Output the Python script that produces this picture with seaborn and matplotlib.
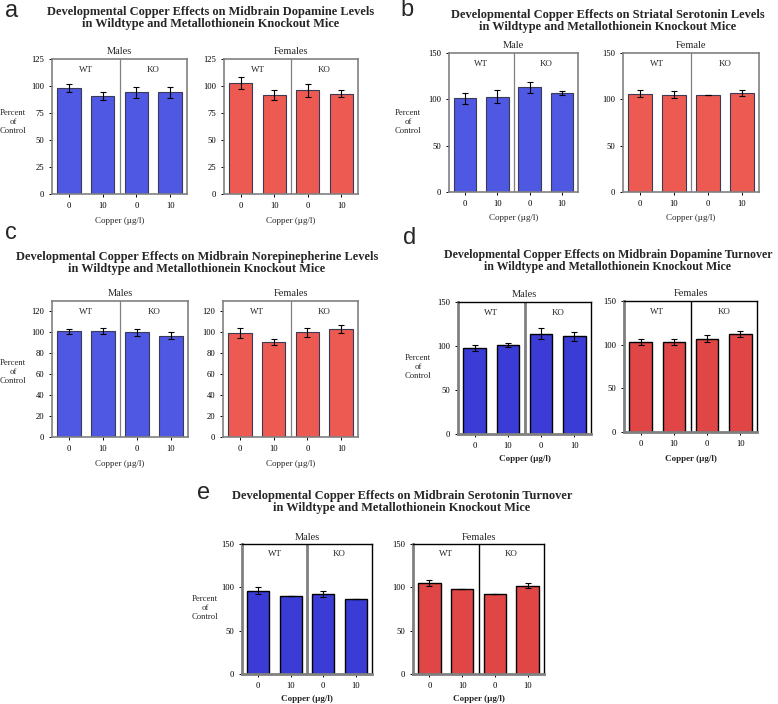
import matplotlib
matplotlib.use("Agg")
import matplotlib.pyplot as plt
import seaborn as sns
import pandas as pd

W, H = 778, 704

groups = ["WT 0", "WT 10", "KO 0", "KO 10"]
tick_labels = ["0", "10", "0", "10"]
genotypes = ["WT", "KO"]

# panel a: midbrain dopamine levels
a_males = [98, 91, 94, 94]
a_males_err = [3.5, 3.5, 5.5, 5.0]
a_females = [103, 92, 96, 93]
a_females_err = [5.5, 4.5, 6.0, 3.0]
# panel b: striatal serotonin levels
b_male = [101, 103, 113, 107]
b_male_err = [6, 7, 6, 2.5]
b_female = [106, 105, 104.5, 107]
b_female_err = [4, 4, 0, 3]
# panel c: midbrain norepinephrine levels
c_males = [101, 101, 100, 97]
c_males_err = [2.5, 3, 3.5, 3.5]
c_females = [99.5, 91, 100, 103]
c_females_err = [5, 3, 4, 4]
# panel d: midbrain dopamine turnover
d_males = [98, 101, 114, 111]
d_males_err = [3.5, 2.5, 6, 5]
d_females = [103, 103, 107, 112]
d_females_err = [3.5, 3.5, 4, 3.5]
# panel e: midbrain serotonin turnover
e_males = [96, 90, 92, 87]
e_males_err = [4, 0, 3.5, 0]
e_females = [105, 98.5, 92.5, 102]
e_females_err = [4, 0, 0, 2.5]

titles = {
    "a": "Developmental Copper Effects on Midbrain Dopamine Levels\nin Wildtype and Metallothionein Knockout Mice",
    "b": "Developmental Copper Effects on Striatal Serotonin Levels\nin Wildtype and Metallothionein Knockout Mice",
    "c": "Developmental Copper Effects on Midbrain Norepinepherine Levels\nin Wildtype and Metallothionein Knockout Mice",
    "d": "Developmental Copper Effects on Midbrain Dopamine Turnover\nin Wildtype and Metallothionein Knockout Mice",
    "e": "Developmental Copper Effects on Midbrain Serotonin Turnover\nin Wildtype and Metallothionein Knockout Mice",
}

sns.set_theme(style="white")
plt.rcParams["font.family"] = ["Liberation Serif", "DejaVu Serif"]

fig = plt.figure(figsize=(W / 100, H / 100), dpi=100)

BLUE1, RED1 = "#4f58e2", "#ec5a52"
BLUE2, RED2 = "#3b3bd6", "#e04646"


def fx(x):
    return x / W


def fy(y):
    return 1 - y / H


def panel(box, vals, errs, color, ylim, yticks, sex, style, copper_y):
    x0, y0, x1, y1 = box
    ax = fig.add_axes([fx(x0), fy(y1), (x1 - x0) / W, (y1 - y0) / H])
    df = pd.DataFrame({"group": groups, "value": vals})
    if style == 1:
        sns.barplot(data=df, x="group", y="value", color=color, saturation=1,
                    width=0.7, edgecolor="#3a3a55", linewidth=0.8,
                    errorbar=None, ax=ax)
    else:
        sns.barplot(data=df, x="group", y="value", color=color, saturation=1,
                    width=0.68, edgecolor="black", linewidth=1.0,
                    errorbar=None, ax=ax)
    xs = list(range(len(groups)))
    ax.errorbar(xs, vals, yerr=errs, fmt="none", ecolor="black",
                elinewidth=0.8, capsize=2.5, capthick=0.8)
    ax.set_xlim(-0.5, 3.5)
    ax.set_ylim(*ylim)
    ax.set_yticks(yticks)
    ax.set_yticklabels([str(t) for t in yticks], fontsize=6.2)
    ax.set_xticks(xs)
    ax.set_xticklabels(tick_labels, fontsize=6.2)
    ax.set_xlabel("")
    ax.set_ylabel("")
    ax.tick_params(axis="both", which="both", length=2.5, width=0.7,
                   direction="out", pad=3, colors="black",
                   bottom=True, left=True)
    if style == 1:
        for s in ax.spines.values():
            s.set_color("#808080")
            s.set_linewidth(1.2)
        ax.axvline(1.5, color="#808080", lw=0.9)
    else:
        for k in ("top", "right"):
            ax.spines[k].set_color("black")
            ax.spines[k].set_linewidth(1.0)
        for k in ("left", "bottom"):
            ax.spines[k].set_color("#808080")
            ax.spines[k].set_linewidth(2.0)
        if sex.startswith("Male"):
            ax.axvline(1.5, color="#808080", lw=2.0)
        else:
            ax.axvline(1.5, color="black", lw=1.0)
    top = ylim[1]
    for i, g in enumerate(genotypes):
        ax.text(0.5 + 2 * i, top - (top - ylim[0]) * 0.05, g,
                ha="center", va="top", fontsize=6.5)
    cx = (x0 + x1) / 2
    fig.text(fx(cx), fy(y0 - 7), sex, ha="center", va="center", fontsize=7.5)
    fig.text(fx(cx), fy(copper_y), "Copper (\u00b5g/l)", ha="center",
             va="center", fontsize=6.5,
             fontweight="bold" if style == 2 else "normal")
    return ax


def header(letter, lx, ly, tx, ty, size=8.9):
    fig.text(fx(lx), fy(ly), letter, ha="left", va="center", fontsize=17,
             family=["Liberation Sans", "DejaVu Sans"])
    fig.text(fx(tx), fy(ty), titles[letter], ha="center", va="center",
             fontsize=size, fontweight="bold", linespacing=1.05)


def ylabel(x, y):
    fig.text(fx(x), fy(y), "Percent\nof\nControl", ha="center", va="center",
             fontsize=6.2, linespacing=1.1)


# a
header("a", 5, 11, 211, 18)
panel((52, 59, 187, 194), a_males, a_males_err, BLUE1, (0, 125),
      [0, 25, 50, 75, 100, 125], "Males", 1, 221)
panel((224, 59, 358, 194), a_females, a_females_err, RED1, (0, 125),
      [0, 25, 50, 75, 100, 125], "Females", 1, 221)
ylabel(13, 122)

# b
header("b", 400, 10, 608, 21)
panel((449, 53, 578, 192), b_male, b_male_err, BLUE1, (0, 150),
      [0, 50, 100, 150], "Male", 1, 218)
panel((623, 53, 759, 192), b_female, b_female_err, RED1, (0, 150),
      [0, 50, 100, 150], "Female", 1, 218)
ylabel(408, 122)

# c
header("c", 5, 233, 197, 263)
panel((52, 301, 188, 437), c_males, c_males_err, BLUE1, (0, 130),
      [0, 20, 40, 60, 80, 100, 120], "Males", 1, 464)
panel((223, 301, 358, 437), c_females, c_females_err, RED1, (0, 130),
      [0, 20, 40, 60, 80, 100, 120], "Females", 1, 464)
ylabel(13, 372)

# d
header("d", 403, 238, 608, 261, size=8.6)
panel((458, 302, 591, 434), d_males, d_males_err, BLUE2, (0, 150),
      [0, 50, 100, 150], "Males", 2, 459)
panel((624, 301, 757, 432), d_females, d_females_err, RED2, (0, 150),
      [0, 50, 100, 150], "Females", 2, 459)
ylabel(418, 367)

# e
header("e", 197, 493, 402, 502)
panel((242, 544, 372, 674), e_males, e_males_err, BLUE2, (0, 150),
      [0, 50, 100, 150], "Males", 2, 699)
panel((413, 544, 544, 674), e_females, e_females_err, RED2, (0, 150),
      [0, 50, 100, 150], "Females", 2, 699)
ylabel(205, 608)

fig.savefig("out.png", dpi=100, facecolor="white")
